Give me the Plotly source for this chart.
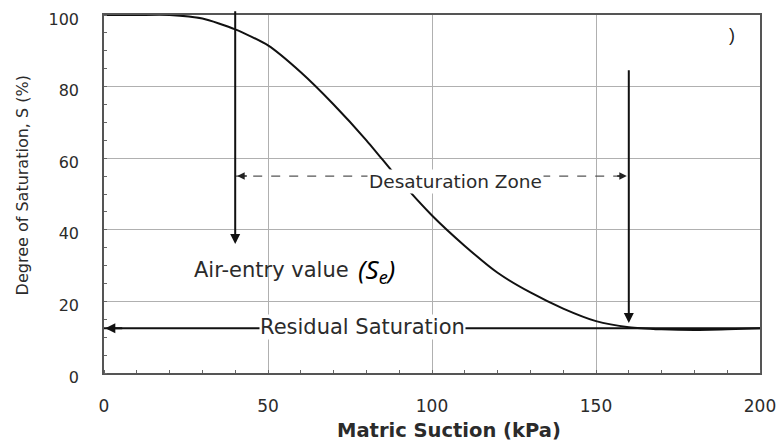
import plotly.graph_objects as go

# Data
suction = [0, 10, 20, 30, 40, 50, 60, 70, 80, 90, 100, 110, 120, 130, 140, 150, 160, 170, 180, 190, 200]
saturation = [100, 100, 100, 99, 96, 91.5, 84, 75, 65, 54, 44, 35.5, 28, 22.5, 18, 14.5, 12.8, 12.2, 12, 12.2, 12.5]

x_ticks = [0, 50, 100, 150, 200]
y_ticks = [0, 20, 40, 60, 80, 100]

air_entry = 40
residual_end = 160
residual_s = 12.5
desat_y = 55

FONT = "Liberation Sans, Arial, sans-serif"
WIDE = "DejaVu Sans, sans-serif"
TXT = "#2b2b2b"

fig = go.Figure()
fig.add_trace(go.Scatter(
    x=suction, y=saturation, mode="lines",
    line=dict(color="#111111", width=2, shape="spline", smoothing=0.6),
    showlegend=False, hoverinfo="skip"))

shapes = [
    dict(type="line", xref="x", yref="y", x0=0, x1=200, y0=residual_s, y1=residual_s,
         line=dict(color="#111111", width=2.2), layer="above"),
    dict(type="line", xref="x", yref="y", x0=air_entry, x1=residual_end, y0=desat_y, y1=desat_y,
         line=dict(color="#555555", width=1.3, dash="dash"), layer="above"),
]

def arrow(x, y, ax, ay, w=2, c="#111111"):
    return dict(x=x, y=y, ax=ax, ay=ay, xref="x", yref="y", axref="x", ayref="y",
                showarrow=True, arrowhead=2, arrowsize=1, arrowwidth=w, arrowcolor=c, text="")

annotations = [
    arrow(air_entry, 36, air_entry, 101.5),
    arrow(residual_end, 14, residual_end, 85),
    arrow(air_entry + 0.6, desat_y, air_entry + 4, desat_y, 1.5, "#222222"),
    arrow(residual_end - 0.6, desat_y, residual_end - 4, desat_y, 1.5, "#222222"),
    arrow(0.4, residual_s, 6, residual_s),
    dict(x=107.2, y=53.5, xref="x", yref="y", text="Desaturation Zone", showarrow=False,
         font=dict(family=WIDE, size=18.5, color=TXT), bgcolor="white", borderpad=1),
    dict(x=78.7, y=12.8, xref="x", yref="y", text="Residual Saturation", showarrow=False,
         font=dict(family=WIDE, size=21, color=TXT), bgcolor="white", borderpad=0),
    dict(x=26.8, y=28.8, xref="x", yref="y", xanchor="left", text="Air-entry value", showarrow=False,
         font=dict(family=WIDE, size=21, color=TXT)),
    dict(x=83, y=28.8, xref="x", yref="y", text="<i>(S<sub>e</sub>)</i>", showarrow=False,
         font=dict(family="Noto Sans, sans-serif", size=26, color="black"), bgcolor="white", borderpad=1),
    dict(x=191.5, y=94.4, xref="x", yref="y", text=")", showarrow=False,
         font=dict(family=FONT, size=18, color="#222222")),
    # axis titles (paper coordinates)
    dict(x=0.526, y=-0.162, xref="paper", yref="paper", xanchor="center", yanchor="middle",
         text="<b>Matric Suction (kPa)</b>", showarrow=False,
         font=dict(family=WIDE, size=19.5, color=TXT)),
    dict(x=-0.125, y=0.524, xref="paper", yref="paper", xanchor="center", yanchor="middle",
         text="Degree of Saturation, S (%)", showarrow=False,
         textangle=-90, font=dict(family=WIDE, size=16, color=TXT)),
]

fig.update_layout(
    width=784, height=446,
    margin=dict(l=96, r=32, t=7, b=81),
    paper_bgcolor="white", plot_bgcolor="white",
    font=dict(family=FONT, color=TXT),
    shapes=shapes, annotations=annotations,
    xaxis=dict(
        range=[0, 200], tickvals=x_ticks, ticktext=[str(v) for v in x_ticks],
        showgrid=True, gridcolor="#b0b0b0", gridwidth=1,
        showline=True, linecolor="#555555", linewidth=1.5, mirror=True,
        ticks="", ticklabelstandoff=17, tickfont=dict(family=WIDE, size=17, color=TXT),
        ticklabeloverflow="allow",
        minor=dict(ticks="inside", dtick=10, ticklen=3, tickcolor="#666666", showgrid=False),
        zeroline=False, automargin=False,
    ),
    yaxis=dict(
        range=[0, 100], tickvals=y_ticks,
        showgrid=True, gridcolor="#b0b0b0", gridwidth=1,
        showline=True, linecolor="#555555", linewidth=1.5, mirror=True,
        ticks="", ticklabelstandoff=20, ticklabelshift=4,
        tickfont=dict(family=WIDE, size=16, color=TXT),
        ticklabeloverflow="allow",
        minor=dict(ticks="inside", dtick=5, ticklen=3, tickcolor="#666666", showgrid=False),
        zeroline=False, automargin=False,
    ),
)

fig.write_html("out.html")
